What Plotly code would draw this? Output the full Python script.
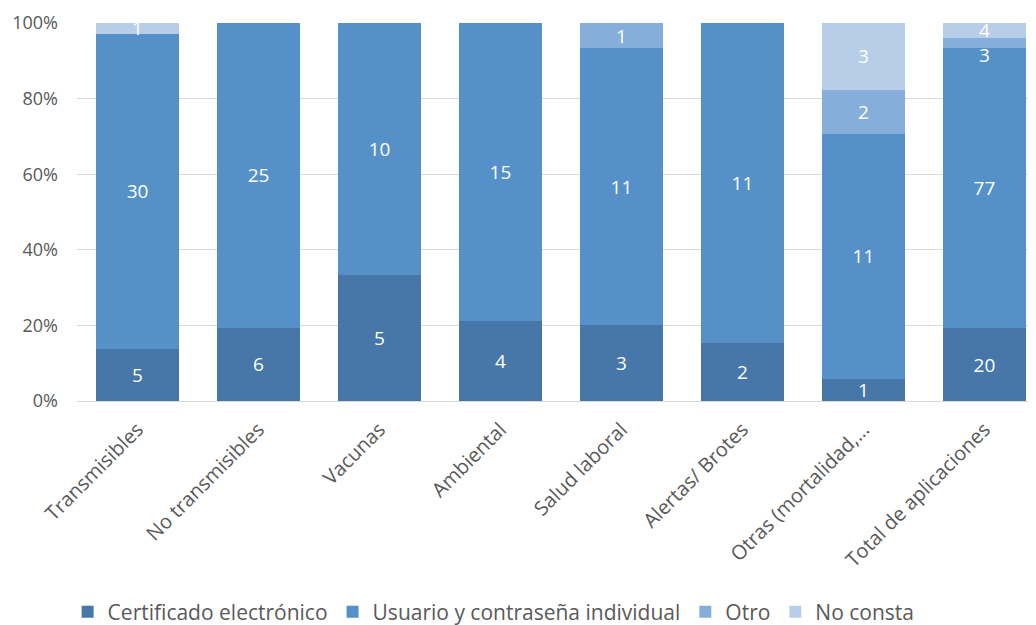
import plotly.graph_objects as go

categories = ["Transmisibles", "No transmisibles", "Vacunas", "Ambiental", "Salud laboral",
              "Alertas/ Brotes", "Otras (mortalidad,…", "Total de aplicaciones"]
certificado = [5, 6, 5, 4, 3, 2, 1, 20]
usuario = [30, 25, 10, 15, 11, 11, 11, 77]
otro = [0, 0, 0, 0, 1, 0, 2, 3]
no_consta = [1, 0, 0, 0, 0, 0, 3, 4]
y_ticks = [0, 20, 40, 60, 80, 100]
y_tick_labels = ["0%", "20%", "40%", "60%", "80%", "100%"]

series = [
    ("Certificado electrónico", certificado, "#4677a8"),
    ("Usuario y contraseña individual", usuario, "#5591c8"),
    ("Otro", otro, "#86aedb"),
    ("No consta", no_consta, "#b7cde8"),
]

FONT = "Open Sans"
fig = go.Figure()
for name, vals, color in series:
    labels = [str(v) if v else "" for v in vals]
    if name == "Otro":
        # Excel nudged this thin segment's label downwards to avoid the label above
        labels[-1] = "\u00a0<br>" + labels[-1]
    fig.add_trace(go.Bar(
        name=name, x=categories, y=vals,
        marker=dict(color=color, line=dict(width=0)),
        text=labels,
        textposition="inside", insidetextanchor="middle", textangle=0,
        constraintext="none",
        textfont=dict(family=FONT, size=19, color="white"),
        hoverinfo="skip",
    ))

# the page body adds an 8px offset, so the figure is 8px smaller than the window
fig.update_layout(
    barmode="stack", barnorm="percent", bargap=0.32,
    width=1028, height=617,
    margin=dict(l=69, r=0, t=15, b=224, autoexpand=False),
    paper_bgcolor="white", plot_bgcolor="white",
    font=dict(family=FONT, size=17, color="#595959"),
    uniformtext=dict(minsize=19, mode="show"),
    showlegend=True,
    legend=dict(orientation="h", x=0.058, xref="container", xanchor="left",
                y=0.021, yref="container", yanchor="middle",
                font=dict(family=FONT, size=21, color="#595959"),
                traceorder="normal", itemwidth=30),
)
fig.update_xaxes(range=[-0.5, 7.426], tickangle=-45, showgrid=False, showline=False,
                 automargin=False,
                 tickfont=dict(family=FONT, size=20, color="#595959"),
                 ticklabelstandoff=12, fixedrange=True)
fig.update_yaxes(range=[0, 100], tickmode="array", tickvals=y_ticks, ticktext=y_tick_labels,
                 automargin=False,
                 showgrid=True, gridcolor="#d9d9d9", gridwidth=1.3,
                 zeroline=True, zerolinecolor="#d9d9d9", zerolinewidth=1.3,
                 tickfont=dict(family=FONT, size=18, color="#595959"),
                 ticklabelstandoff=18, fixedrange=True)

fig.write_html("out.html")
